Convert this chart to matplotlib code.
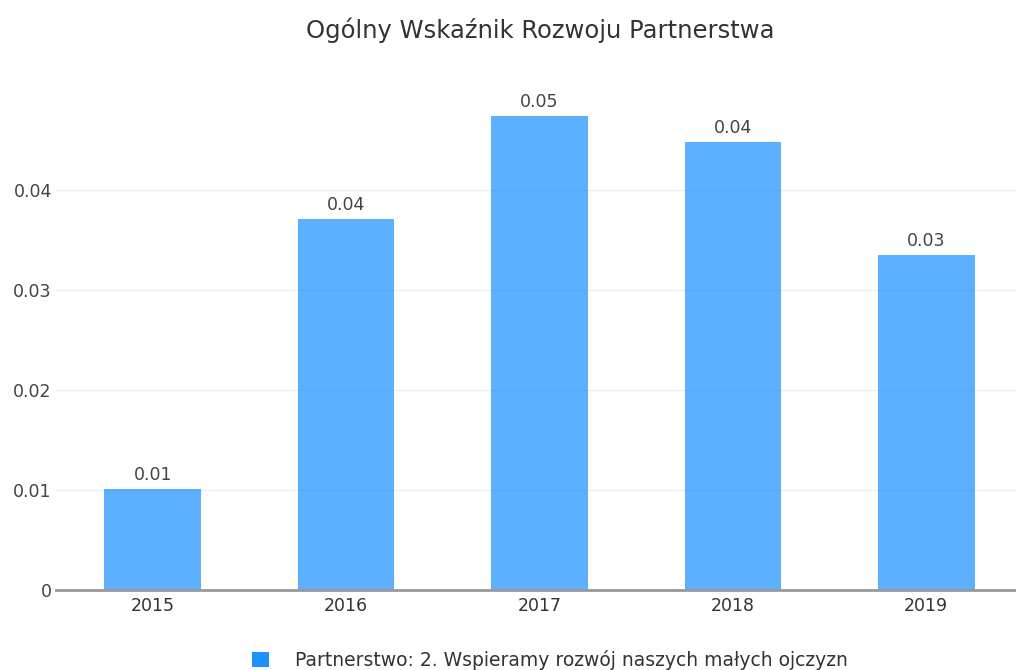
import numpy as np
import matplotlib.pyplot as plt
from matplotlib.patches import Patch

# -------------------------
# DATA
# -------------------------
years = ["2015", "2016", "2017", "2018", "2019"]
values = [0.0101, 0.0371, 0.0474, 0.0448, 0.0335]
yticks = [0, 0.01, 0.02, 0.03, 0.04]
ytick_labels = ["0", "0.01", "0.02", "0.03", "0.04"]

title = "Ogólny Wskaźnik Rozwoju Partnerstwa"
series_name = "Partnerstwo: 2. Wspieramy rozwój naszych małych ojczyzn"

plt.rcParams["font.family"] = ["DejaVu Sans"]

fig = plt.figure(figsize=(10.16, 6.7), dpi=100)
ax = fig.add_axes([56 / 1016, 80 / 670, 967 / 1016, 500 / 670])

x = np.arange(len(years))
bars = ax.bar(x, values, width=0.5, color="#1E90FF", alpha=0.72, zorder=3)

# value labels rounded to two decimals
for xi, v in zip(x, values):
    ax.text(xi, v + 0.0005, f"{v:.2f}", ha="center", va="bottom",
            fontsize=12.5, color="#444444")

ax.set_xlim(-0.5, len(years) - 0.5)
ax.set_ylim(0, 0.05)
ax.set_xticks(x)
ax.set_xticklabels(years, fontsize=12.5, color="#333333")
ax.set_yticks(yticks)
ax.set_yticklabels(ytick_labels, fontsize=12.5, color="#444444")
ax.tick_params(axis="both", length=0)
ax.tick_params(axis="x", pad=5)
ax.tick_params(axis="y", pad=3)

ax.grid(axis="y", color="#eeeeee", linewidth=1, zorder=0)
for s in ["top", "right", "left"]:
    ax.spines[s].set_visible(False)
ax.spines["bottom"].set_color("#999999")
ax.spines["bottom"].set_linewidth(2)
ax.spines["bottom"].set_zorder(4)

fig.text(540 / 1016, 1 - 30 / 670, title, ha="center", va="center",
         fontsize=17.5, color="#333333")

handle = Patch(facecolor="#1E90FF", edgecolor="none")
fig.legend([handle], [series_name], loc="center", frameon=False,
           bbox_to_anchor=(550 / 1016, 1 - 660 / 670), fontsize=13.5,
           handlelength=0.9, handleheight=0.9, handletextpad=1.4,
           labelcolor="#333333")

fig.savefig("out.png", dpi=100)
